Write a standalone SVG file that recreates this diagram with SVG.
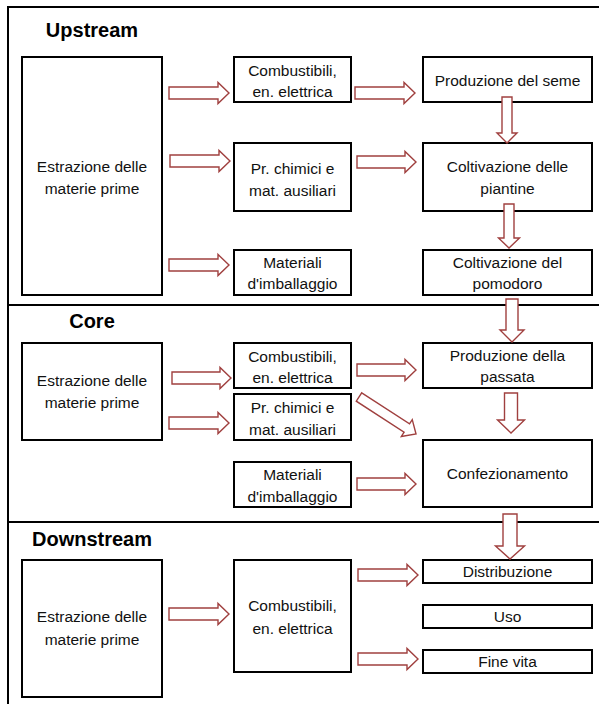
<svg xmlns="http://www.w3.org/2000/svg" width="599" height="704" viewBox="0 0 599 704">
<style>
.frame{stroke:#000;stroke-width:2;fill:none}
.box{fill:#fff;stroke:#000;stroke-width:2}
.t{font-family:"Liberation Sans",Arial,sans-serif;font-size:15.5px;fill:#111;text-anchor:middle}
.h{font-family:"Liberation Sans",Arial,sans-serif;font-size:20px;font-weight:bold;fill:#000;text-anchor:middle}
.arr{fill:#fff;stroke:#a0403f;stroke-width:1.4;stroke-linejoin:miter}
</style>
<rect width="599" height="704" fill="#fff"/>
<g id="frame">
<path class="frame" d="M8,7 H599 M8,6 V704 M8,305 H599 M8,522 H599"/>
</g>
<text class="h" x="92" y="37">Upstream</text>
<text class="h" x="92" y="328">Core</text>
<text class="h" x="92" y="546">Downstream</text>

<g id="u-estr"><rect class="box" x="22" y="57" width="140" height="238"/><text class="t" x="92" y="172">Estrazione delle</text><text class="t" x="92" y="194">materie prime</text></g>
<g id="u-comb"><rect class="box" x="234" y="57" width="117" height="45"/><text class="t" x="292.5" y="76">Combustibili,</text><text class="t" x="292.5" y="97">en. elettrica</text></g>
<g id="u-chim"><rect class="box" x="234" y="143" width="117" height="68"/><text class="t" x="292.5" y="174">Pr. chimici e</text><text class="t" x="292.5" y="196">mat. ausiliari</text></g>
<g id="u-mat"><rect class="box" x="234" y="250" width="117" height="45"/><text class="t" x="292.5" y="268">Materiali</text><text class="t" x="292.5" y="289">d'imballaggio</text></g>
<g id="u-seme"><rect class="box" x="423" y="57" width="169" height="45"/><text class="t" x="507.5" y="86">Produzione del seme</text></g>
<g id="u-piant"><rect class="box" x="423" y="143" width="169" height="68"/><text class="t" x="507.5" y="172">Coltivazione delle</text><text class="t" x="507.5" y="194">piantine</text></g>
<g id="u-pom"><rect class="box" x="423" y="250" width="169" height="45"/><text class="t" x="507.5" y="268">Coltivazione del</text><text class="t" x="507.5" y="289">pomodoro</text></g>

<g id="c-estr"><rect class="box" x="22" y="343" width="140" height="97"/><text class="t" x="92" y="386">Estrazione delle</text><text class="t" x="92" y="408">materie prime</text></g>
<g id="c-comb"><rect class="box" x="234" y="343" width="117" height="45"/><text class="t" x="292.5" y="362">Combustibili,</text><text class="t" x="292.5" y="383">en. elettrica</text></g>
<g id="c-chim"><rect class="box" x="234" y="394" width="117" height="46"/><text class="t" x="292.5" y="413">Pr. chimici e</text><text class="t" x="292.5" y="435">mat. ausiliari</text></g>
<g id="c-mat"><rect class="box" x="234" y="462" width="117" height="45"/><text class="t" x="292.5" y="480">Materiali</text><text class="t" x="292.5" y="502">d'imballaggio</text></g>
<g id="c-pass"><rect class="box" x="423" y="343" width="169" height="45"/><text class="t" x="507.5" y="361">Produzione della</text><text class="t" x="507.5" y="382">passata</text></g>
<g id="c-conf"><rect class="box" x="423" y="440" width="169" height="67"/><text class="t" x="507.5" y="479">Confezionamento</text></g>

<g id="d-estr"><rect class="box" x="22" y="560" width="140" height="137"/><text class="t" x="92" y="622">Estrazione delle</text><text class="t" x="92" y="645">materie prime</text></g>
<g id="d-comb"><rect class="box" x="234" y="560" width="117" height="112"/><text class="t" x="292.5" y="611">Combustibili,</text><text class="t" x="292.5" y="634">en. elettrica</text></g>
<g id="d-dist"><rect class="box" x="423" y="560" width="169" height="23"/><text class="t" x="507.5" y="577">Distribuzione</text></g>
<g id="d-uso"><rect class="box" x="423" y="605" width="169" height="23"/><text class="t" x="507.5" y="622">Uso</text></g>
<g id="d-fine"><rect class="box" x="423" y="650" width="169" height="23"/><text class="t" x="507.5" y="667">Fine vita</text></g>

<g id="connectors">
<path class="arr" d="M169,87 H218 V82.5 L229,93 L218,103.5 V99 H169 Z"/>
<path class="arr" d="M170,155 H219 V150.5 L230,161 L219,171.5 V167 H170 Z"/>
<path class="arr" d="M169,259 H218 V254.5 L229,265 L218,275.5 V271 H169 Z"/>
<path class="arr" d="M355,87 H404 V82.5 L415,93 L404,103.5 V99 H355 Z"/>
<path class="arr" d="M357,156 H405 V151.5 L416,162 L405,172.5 V168 H357 Z"/>
<path class="arr" d="M502,97 V133 H497 L507,143 L517,133 H512 V97 Z"/>
<path class="arr" d="M504,204 V238 H498.5 L509,248 L519.5,238 H514 V204 Z"/>
<path class="arr" d="M506,299 V330 H500 L512,342 L524,330 H518 V299 Z"/>

<path class="arr" d="M172,372 H220 V367.5 L231,378 L220,388.5 V384 H172 Z"/>
<path class="arr" d="M169,417 H218 V412.5 L229,423 L218,433.5 V429 H169 Z"/>
<path class="arr" d="M357,364 H405 V359.5 L416,370 L405,380.5 V376 H357 Z"/>
<path class="arr" transform="translate(359,397) rotate(33)" d="M0,-5 H57 V-10 L68,0 L57,10 V5 H0 Z"/>
<path class="arr" d="M504.5,393 V420 H497.5 L511,433 L524.5,420 H517.5 V393 Z"/>
<path class="arr" d="M357,478 H405 V473.5 L416,484 L405,494.5 V490 H357 Z"/>
<path class="arr" d="M503,514 V546 H495.5 L510,559 L524.5,546 H517 V514 Z"/>

<path class="arr" d="M169,608 H218 V603.5 L229,614 L218,624.5 V620 H169 Z"/>
<path class="arr" d="M358,569 H407 V564.5 L418,575 L407,585.5 V581 H358 Z"/>
<path class="arr" d="M358,653 H407 V648.5 L418,659 L407,669.5 V665 H358 Z"/>
</g>
</svg>
